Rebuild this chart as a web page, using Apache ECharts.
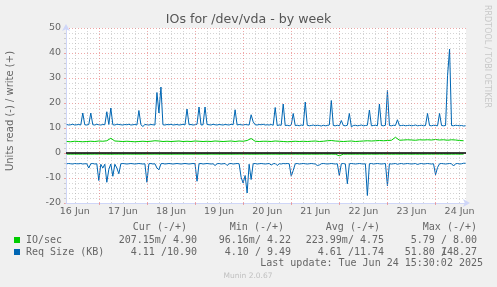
<!DOCTYPE html>
<html><head><meta charset="utf-8">
<script src="https://cdn.jsdelivr.net/npm/echarts@6/dist/echarts.min.js"></script>
<style>html,body{margin:0;padding:0;background:#F0F0F0;}#c{width:497px;height:287px;}</style>
</head><body><div id="c"></div>
<script>
// x axis: hours since 16 Jun 00:00
const X_MIN = 7.63, X_MAX = 207.2;
const dayLabels = ['16 Jun','17 Jun','18 Jun','19 Jun','20 Jun','21 Jun','22 Jun','23 Jun','24 Jun'];
const yTicks = [-20,-10,0,10,20,30,40,50];

// Req Size (KB), write (+), hourly from h=8
const reqStart = 8, reqStep = 1;
const reqWrite = [
11.4,11.2,11.3,11.5,11.2,11.3,11.4,11.2,16.0,11.3,
11.2,11.4,16.0,11.3,11.2,11.5,11.3,11.2,11.4,11.3,
16.5,11.4,18.0,11.3,11.2,11.5,11.4,11.3,11.2,11.4,
11.3,11.5,11.2,11.3,11.4,11.2,17.0,11.3,10.6,11.4,
11.3,11.2,11.4,11.3,11.2,24.2,16.0,26.4,11.3,11.2,
11.4,11.3,11.5,11.2,11.3,11.4,11.2,11.3,11.5,11.2,
17.6,11.3,11.4,11.2,11.3,11.5,18.4,11.2,11.3,18.4,
11.4,11.3,11.2,11.5,11.3,11.2,11.4,11.3,11.2,11.4,
11.3,11.2,11.5,11.3,17.3,11.2,11.4,11.3,11.2,11.4,
11.3,11.2,15.3,12.5,11.3,11.2,11.4,11.3,11.5,11.2,
11.3,11.2,11.4,11.1,18.2,11.0,11.2,11.1,19.6,11.0,
11.1,10.9,11.2,15.8,11.0,11.1,10.9,11.2,11.0,20.4,
11.1,10.9,11.0,11.2,10.9,11.1,11.0,10.8,11.1,10.9,
11.0,11.2,21.0,11.0,10.9,11.1,10.9,13.0,11.0,10.9,
11.1,15.8,10.5,11.0,11.1,10.9,11.0,11.2,10.9,11.0,
11.1,17.2,10.9,11.0,11.1,10.9,19.6,11.0,10.9,11.1,
25.0,11.0,10.9,11.1,11.0,13.3,10.9,11.0,11.1,10.9,
11.0,11.1,10.9,11.0,11.2,10.9,11.0,11.1,10.9,11.0,
15.8,11.0,10.9,11.1,11.0,10.9,15.8,11.0,10.9,11.0,
30.9,41.6,11.0,10.9,11.1,11.0,10.9,11.0,10.8,10.9
];
// Req Size (KB), read (-), hourly from h=8 (drawn negative)
const reqRead = [
4.3,4.2,4.3,4.4,4.2,4.3,4.3,4.2,4.4,4.3,
4.3,6.0,4.3,4.2,4.4,4.3,11.0,4.5,6.0,4.5,
11.7,6.5,4.4,9.3,4.5,6.0,8.3,4.3,4.2,4.3,
4.4,4.3,4.2,4.3,4.4,4.3,4.2,4.3,4.4,4.3,
11.7,4.3,4.2,4.4,4.3,6.0,6.7,4.3,4.2,4.4,
4.3,4.2,4.3,4.4,4.3,4.2,4.3,4.4,4.3,4.2,
4.3,4.4,4.3,4.2,4.3,11.3,4.3,4.2,4.4,4.3,
4.2,4.3,4.4,4.3,5.0,4.3,4.2,4.4,4.3,4.2,
5.0,4.3,4.2,4.4,4.3,4.2,4.3,9.7,12.0,9.0,
16.0,4.5,10.6,4.3,4.2,4.4,4.3,4.2,4.3,4.4,
4.3,4.2,4.8,4.3,4.2,5.0,4.3,4.4,4.2,4.3,
4.2,4.3,9.3,7.0,4.3,4.2,4.4,4.3,4.2,4.3,
4.4,4.3,4.2,4.3,4.4,5.0,4.8,4.3,4.2,4.3,
4.4,4.3,4.2,4.3,4.4,4.3,9.0,4.3,4.2,4.4,
12.3,4.3,4.2,4.3,4.4,4.3,4.2,4.3,4.4,4.3,
17.0,4.3,4.2,4.4,4.3,4.2,4.3,4.4,4.3,4.2,
13.1,4.3,4.4,4.3,4.2,4.5,4.3,4.2,4.4,4.3,
4.2,4.3,4.4,4.3,4.2,4.6,4.3,4.2,4.4,4.3,
4.2,4.3,4.4,4.3,8.7,5.8,4.3,4.2,4.3,4.4,
4.3,4.2,4.3,5.2,4.3,4.2,4.4,4.3,4.1,4.1
];
// IO/sec, 2-hourly from h=8
const ioStart = 8, ioStep = 2;
const ioWrite = [
4.6,4.5,4.7,4.6,4.5,4.6,4.7,4.6,4.8,4.7,
4.9,5.9,4.8,4.7,4.6,4.7,4.6,4.5,4.6,4.7,
4.6,4.7,4.9,4.8,4.6,4.7,4.6,4.7,4.8,4.6,
4.7,4.6,4.8,4.7,4.6,4.7,4.6,4.8,4.7,4.6,
4.7,4.8,4.6,4.8,4.7,5.0,5.8,4.7,4.6,4.7,
4.7,4.6,4.8,4.7,4.6,4.5,4.6,4.7,4.6,4.7,
4.6,4.7,4.8,4.6,4.7,4.9,5.0,4.8,4.7,4.6,
4.7,4.8,4.6,4.7,4.8,4.9,4.8,4.9,5.0,4.9,
5.0,5.1,6.3,5.1,5.2,5.3,5.2,5.1,5.3,5.2,
5.3,5.2,5.4,5.2,5.3,5.1,5.3,5.2,5.0,4.9
];
const ioRead = [
0.45,0.46,0.44,0.47,0.46,0.45,0.46,0.44,0.46,0.45,
0.47,0.48,0.46,0.45,0.46,0.44,0.46,0.45,0.47,0.46,
0.45,0.46,0.44,0.46,0.45,0.47,0.46,0.45,0.46,0.44,
0.46,0.45,0.47,0.46,0.45,0.46,0.44,0.46,0.45,0.47,
0.46,0.45,0.46,0.44,0.46,0.45,0.47,0.46,0.45,0.46,
0.44,0.46,0.45,0.47,0.46,0.45,0.46,0.44,0.46,0.45,
0.47,0.46,0.45,0.46,0.44,0.46,0.45,0.47,1.10,0.45,
0.46,0.44,0.46,0.45,0.47,0.46,0.45,0.46,0.44,0.46,
0.45,0.47,0.46,0.45,0.46,0.44,0.46,0.45,0.47,0.46,
0.45,0.46,0.44,0.46,0.45,0.47,0.46,0.45,0.46,0.45
];

const legendRows = [
  {name:'IO/sec', color:'#00CC00', cur:'207.15m/ 4.90', min:'96.16m/ 4.22', avg:'223.99m/ 4.75', max:'5.79 / 8.00'},
  {name:'Req Size (KB)', color:'#0066B3', cur:'4.11 /10.90', min:'4.10 / 9.49', avg:'4.61 /11.74', max:['51.80 /','148.27']}
];
const legendHeads = ['Cur (-/+)','Min (-/+)','Avg (-/+)','Max (-/+)'];

const pairs = (arr, start, step, sign) => arr.map((v,i)=>[start+i*step, sign*v]);

const dayLines = [], minorLines = [], labelPos = [];
for (let d = 0; d <= dayLabels.length; d++) {
  if (d < dayLabels.length) labelPos.push(d*24+12);
  for (let q = 0; q < 4; q++) {
    const h = d*24 + q*6;
    if (h <= X_MIN || h >= X_MAX) continue;
    if (q === 0) dayLines.push(h); else minorLines.push(h);
  }
}

const mono = 'DejaVu Sans Mono';
const sans = 'DejaVu Sans';
const TXT = '#666666';
const MAJ = 'rgba(230,110,110,0.6)';
const MIN = 'rgba(160,160,160,0.45)';

const graphic = [];
graphic.push({type:'text', x:248.5, y:19.5, style:{text:'IOs for /dev/vda - by week', font:'12.6px '+sans, fill:'#555', align:'center', verticalAlign:'middle'}});
graphic.push({type:'text', x:10, y:111, rotation:Math.PI/2, style:{text:'Units read (-) / write (+)', font:'10px '+sans, fill:TXT, align:'center', verticalAlign:'middle'}});
graphic.push({type:'text', x:487, y:5, rotation:-Math.PI/2, style:{text:'RRDTOOL / TOBI OETIKER', font:'8px '+sans, fill:'#C8C8C8', align:'left', verticalAlign:'middle'}});
const colRight = [187, 284, 380, 477];
const valRight = [197, 291, 384, 477];
legendHeads.forEach((t,i)=>graphic.push({type:'text', x:colRight[i], y:227, style:{text:t, font:'10px '+mono, fill:TXT, align:'right', verticalAlign:'middle'}}));
legendRows.forEach((r,j)=>{
  const y = 240 + j*12;
  graphic.push({type:'rect', shape:{x:14, y:y-3, width:6, height:6}, style:{fill:r.color}});
  graphic.push({type:'text', x:26, y:y, style:{text:r.name, font:'10px '+mono, fill:TXT, align:'left', verticalAlign:'middle'}});
  [r.cur, r.min, r.avg].forEach((t,i)=>graphic.push({type:'text', x:valRight[i], y:y, style:{text:t, font:'10px '+mono, fill:TXT, align:'right', verticalAlign:'middle'}}));
  if (Array.isArray(r.max)) {
    graphic.push({type:'text', x:valRight[3]-6.02*5, y:y, style:{text:r.max[0], font:'10px '+mono, fill:TXT, align:'right', verticalAlign:'middle'}});
    graphic.push({type:'text', x:valRight[3], y:y, style:{text:r.max[1], font:'10px '+mono, fill:TXT, align:'right', verticalAlign:'middle'}});
  } else {
    graphic.push({type:'text', x:valRight[3], y:y, style:{text:r.max, font:'10px '+mono, fill:TXT, align:'right', verticalAlign:'middle'}});
  }
});
graphic.push({type:'text', x:483, y:263, style:{text:'Last update: Tue Jun 24 15:30:02 2025', font:'10px '+mono, fill:TXT, align:'right', verticalAlign:'middle'}});
graphic.push({type:'text', x:248, y:276, style:{text:'Munin 2.0.67', font:'7.5px '+sans, fill:'#C0C0C0', align:'center', verticalAlign:'middle'}});

const chart = echarts.init(document.getElementById('c'), null, {renderer:'canvas'});
chart.setOption({
  animation:false,
  backgroundColor:'#F0F0F0',
  grid:{left:66, top:28, width:400, height:175, show:true, backgroundColor:'#FFFFFF', borderWidth:0},
  xAxis:[{
    type:'value', min:X_MIN, max:X_MAX, position:'bottom', z:5,
    axisLine:{show:true, onZero:false, lineStyle:{color:'#CFD6F8', width:1}, symbol:['none','arrow'], symbolSize:[6,7], symbolOffset:[0,4]},
    axisTick:{show:true, customValues: dayLines, length:2, inside:false, lineStyle:{color:MAJ}},
    splitLine:{show:true, lineStyle:{color:MAJ, type:[1,2], width:1}},
    axisLabel:{
      customValues: labelPos,
      formatter: v => { const i = labelPos.indexOf(v); return i >= 0 ? dayLabels[i] : ''; },
      color:TXT, fontFamily:sans, fontSize:9.5, margin:4
    }
  },{
    type:'value', min:X_MIN, max:X_MAX, position:'bottom',
    axisLine:{show:false},
    axisTick:{show:true, customValues: minorLines, length:2, lineStyle:{color:MIN}},
    axisLabel:{show:false},
    splitLine:{show:true, lineStyle:{color:MIN, type:[1,2], width:1}}
  }],
  yAxis:{
    type:'value', min:yTicks[0], max:yTicks[yTicks.length-1], interval:10,
    axisLine:{show:true, onZero:false, lineStyle:{color:'#CFD6F8', width:1}, symbol:['none','arrow'], symbolSize:[6,7], symbolOffset:[0,4]},
    axisTick:{show:true, length:2, lineStyle:{color:MAJ}},
    minorTick:{show:true, splitNumber:5, length:2, lineStyle:{color:MIN}},
    splitLine:{show:true, lineStyle:{color:MAJ, type:[1,2], width:1}},
    minorSplitLine:{show:true, lineStyle:{color:MIN, type:[1,2], width:1}},
    axisLabel:{color:TXT, fontFamily:sans, fontSize:9.5, margin:5}
  },
  graphic: graphic,
  series:[
    {name:'IO/sec read', type:'line', z:3, showSymbol:false, data:pairs(ioRead, ioStart, ioStep, -1), lineStyle:{color:'#00CC00', width:1}, itemStyle:{color:'#00CC00'}},
    {name:'IO/sec write', type:'line', z:3, showSymbol:false, data:pairs(ioWrite, ioStart, ioStep, 1), lineStyle:{color:'#00CC00', width:1}, itemStyle:{color:'#00CC00'}},
    {name:'Req read', type:'line', z:3, showSymbol:false, data:pairs(reqRead, reqStart, reqStep, -1), lineStyle:{color:'#0066B3', width:1}, itemStyle:{color:'#0066B3'}},
    {name:'Req write', type:'line', z:3, showSymbol:false, data:pairs(reqWrite, reqStart, reqStep, 1), lineStyle:{color:'#0066B3', width:1}, itemStyle:{color:'#0066B3'}},
    {type:'line', z:4, data:[], silent:true,
     markLine:{silent:true, symbol:'none', label:{show:false}, animation:false,
       data:[{yAxis:0, lineStyle:{color:'#000000', type:'solid', width:1.5}}]}}
  ]
});
</script></body></html>
